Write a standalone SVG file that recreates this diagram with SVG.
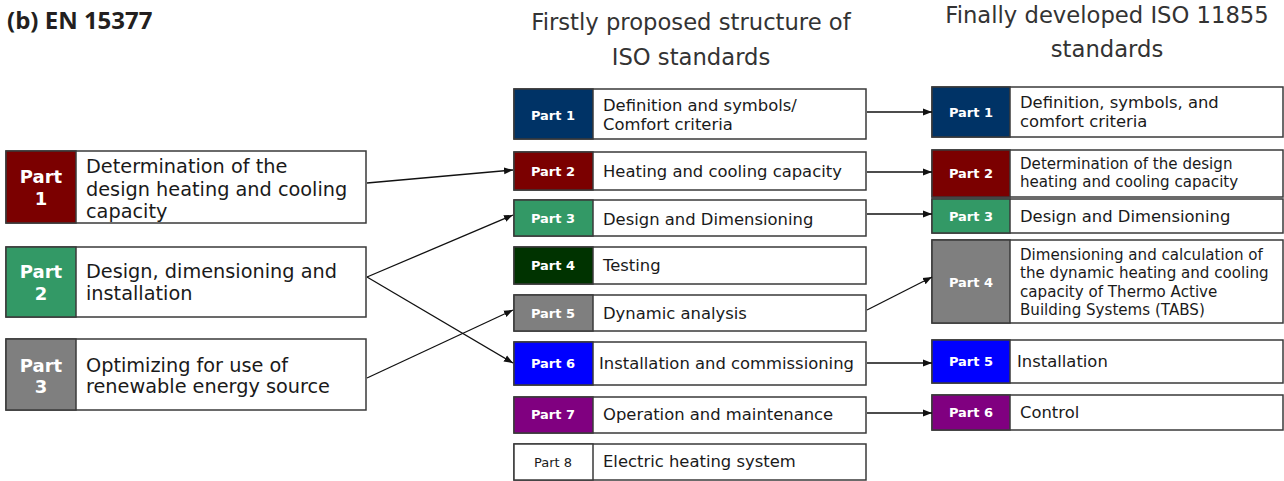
<svg xmlns="http://www.w3.org/2000/svg" width="1284" height="481" viewBox="0 0 1284 481">
<defs>
<marker id="ah" markerWidth="10" markerHeight="10" refX="9" refY="4.5" orient="auto" markerUnits="userSpaceOnUse">
<path d="M0,1 L9,4.5 L0,8 Z" fill="#111"/>
</marker>
<style>
.box{fill:#fff;stroke:#3a3a3a;stroke-width:1.5}
.tag{stroke:#3a3a3a;stroke-width:1.5}
.t{font-family:"DejaVu Sans",Verdana,sans-serif;fill:#1a1a1a}
.lbl{font-family:"DejaVu Sans",Verdana,sans-serif;font-weight:bold;fill:#fff;text-anchor:middle}
.hd{font-family:"DejaVu Sans",Verdana,sans-serif;fill:#333;font-size:22.7px;text-anchor:middle}
.c{stroke:#111;stroke-width:1.3;fill:none;marker-end:url(#ah)}
</style>
</defs>
<rect width="1284" height="481" fill="#fff"/>
<text x="7" y="29" font-family="Open Sans, Liberation Sans, sans-serif" font-weight="bold" font-size="24" fill="#231f20">(b) EN 15377</text>
<g id="headers">
<text class="hd" x="691" y="30">Firstly proposed structure of</text>
<text class="hd" x="691" y="65">ISO standards</text>
<text class="hd" x="1107" y="23">Finally developed ISO 11855</text>
<text class="hd" x="1107" y="57">standards</text>
</g>
<!-- Left column -->
<g id="en-p1">
<rect class="box" x="6" y="151" width="360" height="72"/>
<rect class="tag" x="6" y="151" width="70" height="72" fill="#7b0000"/>
<text class="lbl" x="41" y="183" font-size="18">Part</text>
<text class="lbl" x="41" y="205" font-size="18">1</text>
<text class="t" x="86" y="173" font-size="19.3">Determination of the</text>
<text class="t" x="86" y="196" font-size="19.3">design heating and cooling</text>
<text class="t" x="86" y="218" font-size="19.3">capacity</text>
</g>
<g id="en-p2">
<rect class="box" x="6" y="247" width="360" height="70"/>
<rect class="tag" x="6" y="247" width="70" height="70" fill="#339966"/>
<text class="lbl" x="41" y="278" font-size="18">Part</text>
<text class="lbl" x="41" y="300" font-size="18">2</text>
<text class="t" x="86" y="278" font-size="19.3">Design, dimensioning and</text>
<text class="t" x="86" y="300" font-size="19.3">installation</text>
</g>
<g id="en-p3">
<rect class="box" x="6" y="339" width="360" height="71"/>
<rect class="tag" x="6" y="339" width="70" height="71" fill="#7f7f7f"/>
<text class="lbl" x="41" y="372" font-size="18">Part</text>
<text class="lbl" x="41" y="393" font-size="18">3</text>
<text class="t" x="86" y="372" font-size="19.3">Optimizing for use of</text>
<text class="t" x="86" y="393" font-size="19.3">renewable energy source</text>
</g>
<!-- Middle column -->
<g id="m-p1">
<rect class="box" x="514" y="89" width="352" height="50"/>
<rect class="tag" x="514" y="89" width="79" height="50" fill="#003366"/>
<text class="lbl" x="553" y="120" font-size="13">Part 1</text>
<text class="t" x="603" y="111" font-size="16.4">Definition and symbols/</text>
<text class="t" x="603" y="130" font-size="16.4">Comfort criteria</text>
</g>
<g id="m-p2">
<rect class="box" x="514" y="152" width="352" height="38"/>
<rect class="tag" x="514" y="152" width="79" height="38" fill="#7b0000"/>
<text class="lbl" x="553" y="176" font-size="13">Part 2</text>
<text class="t" x="603" y="177" font-size="16.4">Heating and cooling capacity</text>
</g>
<g id="m-p3">
<rect class="box" x="514" y="200" width="352" height="36"/>
<rect class="tag" x="514" y="200" width="79" height="36" fill="#339966"/>
<text class="lbl" x="553" y="223" font-size="13">Part 3</text>
<text class="t" x="603" y="225" font-size="16.4">Design and Dimensioning</text>
</g>
<g id="m-p4">
<rect class="box" x="514" y="247" width="352" height="37"/>
<rect class="tag" x="514" y="247" width="79" height="37" fill="#003300"/>
<text class="lbl" x="553" y="270" font-size="13">Part 4</text>
<text class="t" x="603" y="271" font-size="16.4">Testing</text>
</g>
<g id="m-p5">
<rect class="box" x="514" y="295" width="352" height="36"/>
<rect class="tag" x="514" y="295" width="79" height="36" fill="#7f7f7f"/>
<text class="lbl" x="553" y="318" font-size="13">Part 5</text>
<text class="t" x="603" y="319" font-size="16.4">Dynamic analysis</text>
</g>
<g id="m-p6">
<rect class="box" x="514" y="342" width="352" height="43"/>
<rect class="tag" x="514" y="342" width="79" height="43" fill="#0000ff"/>
<text class="lbl" x="553" y="368" font-size="13">Part 6</text>
<text class="t" x="599" y="369" font-size="16.4">Installation and commissioning</text>
</g>
<g id="m-p7">
<rect class="box" x="514" y="397" width="352" height="36"/>
<rect class="tag" x="514" y="397" width="79" height="36" fill="#800080"/>
<text class="lbl" x="553" y="419" font-size="13">Part 7</text>
<text class="t" x="603" y="420" font-size="16.4">Operation and maintenance</text>
</g>
<g id="m-p8">
<rect class="box" x="514" y="444" width="352" height="36"/>
<rect class="tag" x="514" y="444" width="79" height="36" fill="#fff"/>
<text x="553" y="467" font-size="13" text-anchor="middle" font-family="DejaVu Sans, Verdana, sans-serif" fill="#1a1a1a">Part 8</text>
<text class="t" x="603" y="467" font-size="16.4">Electric heating system</text>
</g>
<!-- Right column -->
<g id="r-p1">
<rect class="box" x="932" y="87" width="351" height="50"/>
<rect class="tag" x="932" y="87" width="78" height="50" fill="#003366"/>
<text class="lbl" x="971" y="117" font-size="13">Part 1</text>
<text class="t" x="1020" y="108" font-size="16.4">Definition, symbols, and</text>
<text class="t" x="1020" y="127" font-size="16.4">comfort criteria</text>
</g>
<g id="r-p2">
<rect class="box" x="932" y="150" width="351" height="47"/>
<rect class="tag" x="932" y="150" width="78" height="47" fill="#7b0000"/>
<text class="lbl" x="971" y="178" font-size="13">Part 2</text>
<text class="t" x="1020" y="169" font-size="15.1">Determination of the design</text>
<text class="t" x="1020" y="187" font-size="15.1">heating and cooling capacity</text>
</g>
<g id="r-p3">
<rect class="box" x="932" y="199" width="351" height="34"/>
<rect class="tag" x="932" y="199" width="78" height="34" fill="#339966"/>
<text class="lbl" x="971" y="221" font-size="13">Part 3</text>
<text class="t" x="1020" y="222" font-size="16.4">Design and Dimensioning</text>
</g>
<g id="r-p4">
<rect class="box" x="932" y="240" width="351" height="83"/>
<rect class="tag" x="932" y="240" width="78" height="83" fill="#7f7f7f"/>
<text class="lbl" x="971" y="287" font-size="13">Part 4</text>
<text class="t" x="1020" y="260" font-size="15.1">Dimensioning and calculation of</text>
<text class="t" x="1020" y="278" font-size="15.1">the dynamic heating and cooling</text>
<text class="t" x="1020" y="297" font-size="15.1">capacity of Thermo Active</text>
<text class="t" x="1020" y="315" font-size="15.1">Building Systems (TABS)</text>
</g>
<g id="r-p5">
<rect class="box" x="932" y="340" width="351" height="43"/>
<rect class="tag" x="932" y="340" width="78" height="43" fill="#0000ff"/>
<text class="lbl" x="971" y="366" font-size="13">Part 5</text>
<text class="t" x="1017" y="367" font-size="16.4">Installation</text>
</g>
<g id="r-p6">
<rect class="box" x="932" y="395" width="351" height="35"/>
<rect class="tag" x="932" y="395" width="78" height="35" fill="#800080"/>
<text class="lbl" x="971" y="417" font-size="13">Part 6</text>
<text class="t" x="1020" y="418" font-size="16.4">Control</text>
</g>
<g id="connectors">
<path class="c" d="M367,183 L513,170"/>
<path class="c" d="M367,277 L513,215"/>
<path class="c" d="M367,277 L513,363"/>
<path class="c" d="M367,378 L513,310"/>
<path class="c" d="M867,112 L932,112"/>
<path class="c" d="M867,172 L932,172"/>
<path class="c" d="M867,214 L932,214"/>
<path class="c" d="M867,310 L932,277"/>
<path class="c" d="M867,363 L932,363"/>
<path class="c" d="M867,413 L932,413"/>
</g>
</svg>
